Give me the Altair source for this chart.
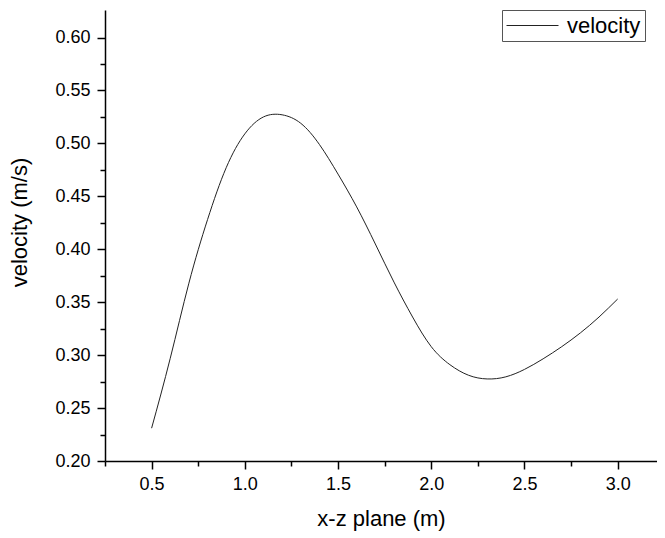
import altair as alt
import pandas as pd

x_vals = [0.5, 0.6, 0.7, 0.8, 0.9, 1.0, 1.1, 1.2, 1.3, 1.4, 1.5, 1.6, 1.7,
          1.8, 1.9, 2.0, 2.1, 2.2, 2.3, 2.4, 2.5, 2.6, 2.7, 2.8, 2.9, 3.0]
velocity = [0.231, 0.297, 0.368, 0.428, 0.477, 0.509, 0.525, 0.527, 0.519,
            0.499, 0.471, 0.440, 0.405, 0.369, 0.336, 0.308, 0.291, 0.281,
            0.2775, 0.2795, 0.2865, 0.2965, 0.308, 0.321, 0.336, 0.353]
series_name = "velocity"

x_ticks = [0.25, 0.5, 0.75, 1.0, 1.25, 1.5, 1.75, 2.0, 2.25, 2.5, 2.75, 3.0]
y_ticks = [0.2, 0.225, 0.25, 0.275, 0.3, 0.325, 0.35, 0.375, 0.4, 0.425,
           0.45, 0.475, 0.5, 0.525, 0.55, 0.575, 0.6]

df = pd.DataFrame({"x": x_vals, "v": velocity, "series": series_name})

FONT = "Liberation Sans"
x_major = "abs(datum.value*2 - round(datum.value*2)) < 1e-6"
y_major = "abs(datum.value*20 - round(datum.value*20)) < 1e-6"

x_axis = alt.Axis(
    values=x_ticks,
    labelExpr=f"{x_major} ? format(datum.value, '.1f') : ''",
    tickSize={"condition": {"test": x_major, "value": 8}, "value": 5},
    grid=False,
    title="x-z plane (m)",
    titlePadding=15,
    labelPadding=6,
)
y_axis = alt.Axis(
    values=y_ticks,
    labelExpr=f"{y_major} ? format(datum.value, '.2f') : ''",
    tickSize={"condition": {"test": y_major, "value": 8}, "value": 5},
    grid=False,
    title="velocity (m/s)",
    titlePadding=23,
    titleY=212,
    labelPadding=7,
)

chart = (
    alt.Chart(df)
    .mark_line(strokeWidth=1, interpolate="natural")
    .encode(
        x=alt.X("x:Q", scale=alt.Scale(domain=[0.25, 3.211], nice=False, zero=False), axis=x_axis),
        y=alt.Y("v:Q", scale=alt.Scale(domain=[0.2, 0.626], nice=False, zero=False), axis=y_axis),
        color=alt.Color(
            "series:N",
            scale=alt.Scale(range=["#222222"]),
            legend=alt.Legend(
                title=None,
                orient="none",
                legendX=397,
                legendY=0,
                symbolType="stroke",
                symbolSize=2704,
                symbolStrokeWidth=1,
                clipHeight=23,
                labelFontSize=22,
                labelFont=FONT,
                labelColor="black",
                labelOffset=8,
                strokeColor="#555555",
                fillColor="white",
                padding=4,
            ),
        ),
    )
    .properties(
        width=552,
        height=451,
        autosize=alt.AutoSizeParams(type="none"),
        padding={"left": 97, "top": 2, "right": 0, "bottom": 72},
    )
    .configure_view(stroke=None)
    .configure_axis(
        domainColor="black",
        domainWidth=1.5,
        tickColor="black",
        tickWidth=1.5,
        labelFont=FONT,
        labelFontSize=18,
        labelColor="black",
        titleFont=FONT,
        titleFontSize=22,
        titleFontWeight="normal",
        titleColor="black",
    )
)

chart.save("out.html", embed_options={"renderer": "svg", "actions": False})
